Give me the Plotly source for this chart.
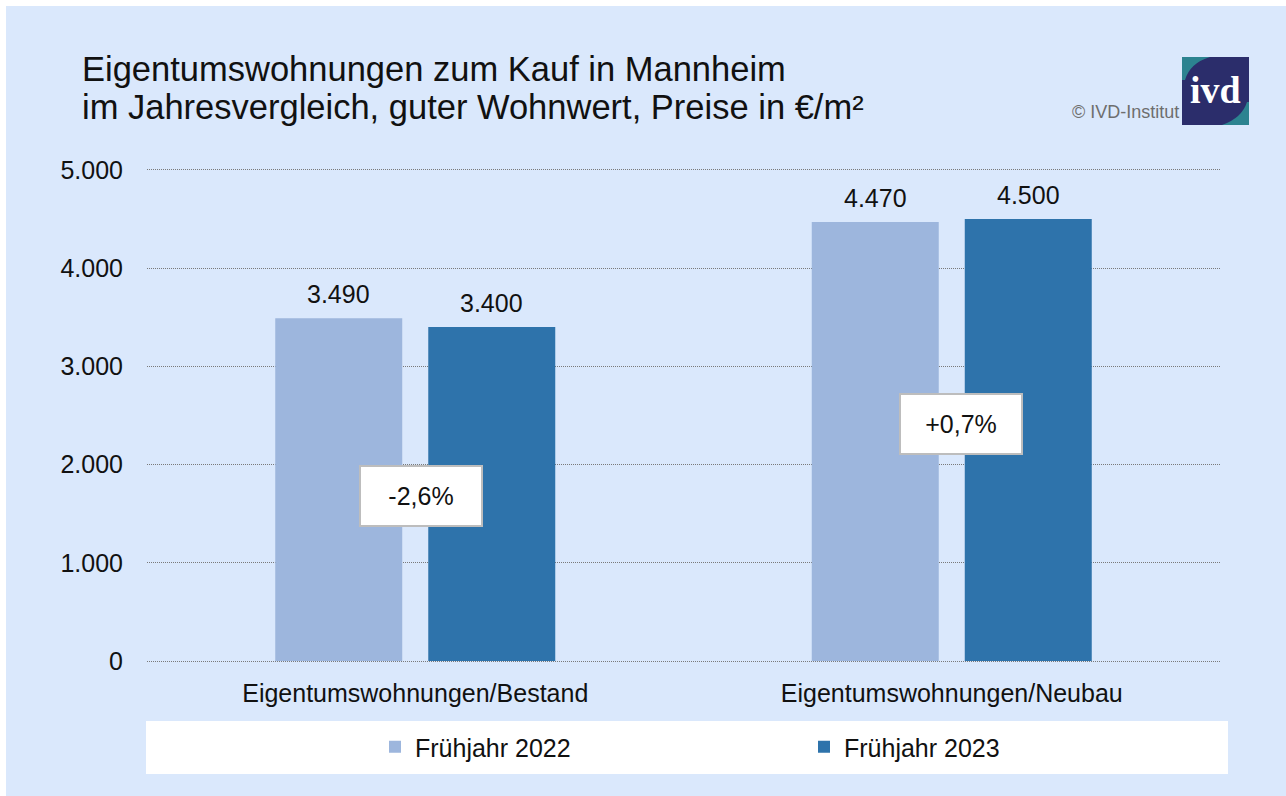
import plotly.graph_objects as go

W, H = 1286, 796

categories = ["Eigentumswohnungen/Bestand", "Eigentumswohnungen/Neubau"]
series_names = ["Frühjahr 2022", "Frühjahr 2023"]
values_2022 = [3490, 4470]
values_2023 = [3400, 4500]
y_ticks = [0, 1000, 2000, 3000, 4000, 5000]

# styling / positions
BG = "#DAE8FC"
C_LIGHT = "#9DB6DD"
C_DARK = "#2E73AB"
FONT = "Liberation Sans, Arial, sans-serif"
change_box_y = [1680, 2418]
change_box_xshift = [6, 9]

def px(x):
    return x / W

def py(y):
    return 1 - y / H

def fmt_thousands(v):
    return f"{v:,}".replace(",", ".")

fig = go.Figure()
fig.add_trace(go.Bar(x=categories, y=values_2022, name=series_names[0],
                     marker=dict(color=C_LIGHT, line=dict(width=0))))
fig.add_trace(go.Bar(x=categories, y=values_2023, name=series_names[1],
                     marker=dict(color=C_DARK, line=dict(width=0))))

annotations = []
# value labels
for vals, shift in ((values_2022, -76.5), (values_2023, 76.5)):
    for c, v in zip(categories, vals):
        annotations.append(dict(x=c, y=v, xref="x", yref="y", text=fmt_thousands(v),
                                showarrow=False, xshift=shift, yshift=8, yanchor="bottom",
                                font=dict(size=25, color="#111", family=FONT)))
# change boxes
for i, c in enumerate(categories):
    ch = (values_2023[i] - values_2022[i]) / values_2022[i] * 100
    txt = ("+" if ch > 0 else "") + f"{ch:.1f}".replace(".", ",") + "%"
    annotations.append(dict(x=c, y=change_box_y[i], xref="x", yref="y", text=txt,
                            showarrow=False, xshift=change_box_xshift[i],
                            bgcolor="white", bordercolor="#BDBDBD", borderwidth=2,
                            borderpad=2, width=116, height=54,
                            font=dict(size=25, color="#111", family=FONT)))
# title
annotations.append(dict(x=px(80), y=py(82), xref="paper", yref="paper", xanchor="left",
                        yanchor="bottom", text="Eigentumswohnungen zum Kauf in Mannheim",
                        showarrow=False, yshift=-8,
                        font=dict(size=34.5, color="#111", family=FONT)))
annotations.append(dict(x=px(80), y=py(120), xref="paper", yref="paper", xanchor="left",
                        yanchor="bottom", text="im Jahresvergleich, guter Wohnwert, Preise in €/m²",
                        showarrow=False, yshift=-8,
                        font=dict(size=34.5, color="#111", family=FONT)))
# copyright
annotations.append(dict(x=px(1181), y=py(112), xref="paper", yref="paper", xanchor="right",
                        yanchor="middle", text="© IVD-Institut", showarrow=False,
                        font=dict(size=18, color="#6E6E6E", family=FONT)))
# logo text
annotations.append(dict(x=px(1215), y=py(90), xref="paper", yref="paper", xanchor="center",
                        yanchor="middle", text="<b>ivd</b>", showarrow=False,
                        font=dict(size=38, color="white", family="Liberation Serif, serif")))

shapes = [
    # white strips at top/left
    dict(type="rect", xref="paper", yref="paper", x0=0, x1=px(6), y0=0, y1=1,
         fillcolor="white", line=dict(width=0), layer="below"),
    dict(type="rect", xref="paper", yref="paper", x0=0, x1=1, y0=py(6), y1=1,
         fillcolor="white", line=dict(width=0), layer="below"),
    # legend box
    dict(type="rect", xref="paper", yref="paper", x0=px(146), x1=px(1228), y0=py(774), y1=py(721),
         fillcolor="white", line=dict(width=0), layer="below"),
    # logo
    dict(type="rect", xref="paper", yref="paper", x0=px(1182), x1=px(1249), y0=py(125), y1=py(57),
         fillcolor="#2B2D6B", line=dict(width=0)),
    dict(type="path", xref="paper", yref="paper",
         path=f"M {px(1182)},{py(57)} L {px(1210)},{py(57)} Q {px(1190)},{py(63)} {px(1185)},{py(80)} L {px(1182)},{py(80)} Z",
         fillcolor="#2C8390", line=dict(width=0)),
    dict(type="path", xref="paper", yref="paper",
         path=f"M {px(1249)},{py(125)} L {px(1222)},{py(125)} Q {px(1242)},{py(118)} {px(1247)},{py(102)} L {px(1249)},{py(102)} Z",
         fillcolor="#2C8390", line=dict(width=0)),
]

fig.update_layout(
    width=W, height=H,
    margin=dict(l=0, r=0, t=0, b=0, pad=0, autoexpand=False),
    paper_bgcolor=BG, plot_bgcolor=BG,
    separators=",.",
    barmode="group", bargap=0.4296, bargroupgap=0.17,
    font=dict(family=FONT, size=25, color="#111"),
    showlegend=True,
    legend=dict(orientation="h", x=px(375), y=py(747), xanchor="left", yanchor="middle",
                bgcolor="rgba(0,0,0,0)", font=dict(size=25, color="#111", family=FONT),
                entrywidth=384, entrywidthmode="pixels", itemwidth=30, traceorder="normal"),
    annotations=annotations,
    shapes=shapes,
    xaxis=dict(domain=[px(147), px(1220)], showgrid=False, showline=False, zeroline=False,
               ticks="", tickfont=dict(size=25, color="#111", family=FONT),
               ticklabelstandoff=12, fixedrange=True, automargin=False),
    yaxis=dict(domain=[py(664), py(167)], range=[-30, 5030], tickvals=y_ticks,
               tickformat=",d", showgrid=True, gridcolor="#7A7A7A", griddash="1px,1px",
               gridwidth=1, zeroline=False, showline=False, ticks="",
               tickfont=dict(size=25, color="#111", family=FONT),
               ticklabelstandoff=23, fixedrange=True, automargin=False),
)

fig.write_html("out.html")
